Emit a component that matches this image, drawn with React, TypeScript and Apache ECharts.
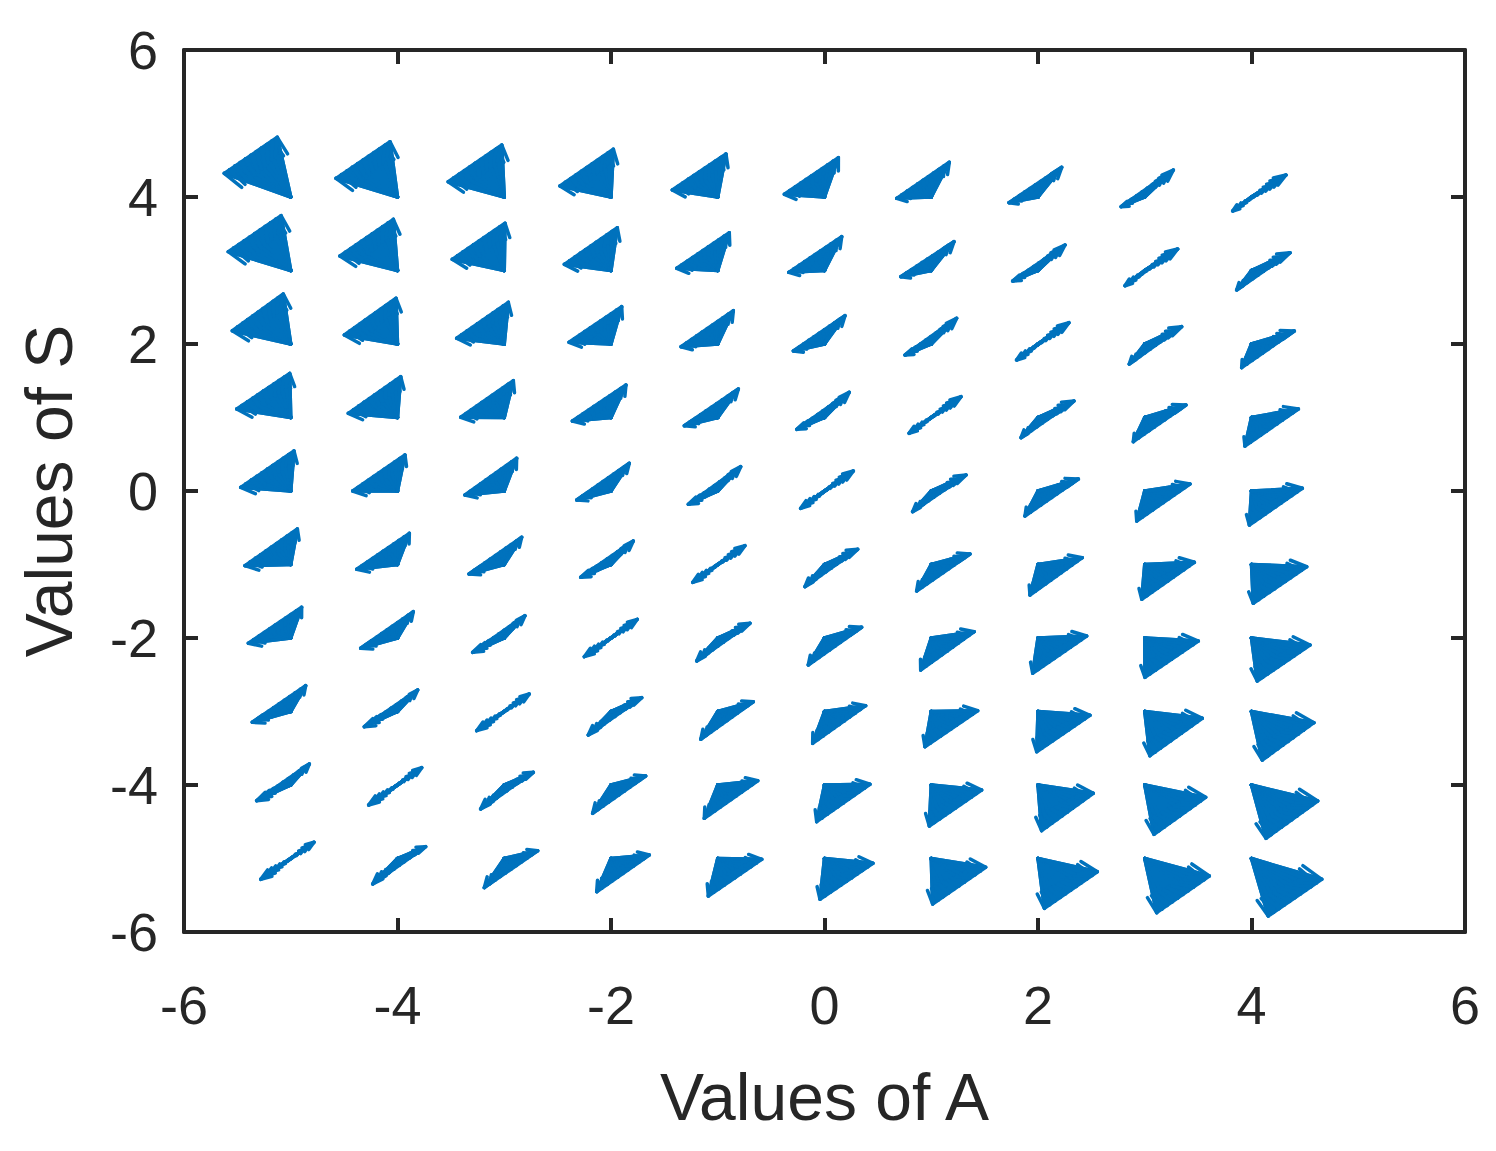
import * as echarts from 'echarts';
import { useEffect, useRef } from 'react';

// grid of the quiver plot
const aValues = [-5, -4, -3, -2, -1, 0, 1, 2, 3, 4];
const sValues = [4, 3, 2, 1, 0, -1, -2, -3, -4, -5];

// each glyph is a fan of arrows from (A, S) to the points between
// (A + u1, S + v1) and (A + u2, S + v2); rows follow sValues, columns aValues
const u1 = [
  [-0.623, -0.576, -0.525, -0.478, -0.426, -0.376, -0.324, -0.272, -0.222, -0.176],
  [-0.585, -0.539, -0.487, -0.437, -0.384, -0.335, -0.286, -0.237, -0.185, -0.139],
  [-0.547, -0.498, -0.446, -0.393, -0.344, -0.292, -0.246, -0.2, -0.145, -0.092],
  [-0.506, -0.461, -0.408, -0.362, -0.313, -0.26, -0.208, -0.159, -0.107, -0.061],
  [-0.469, -0.42, -0.368, -0.321, -0.276, -0.223, -0.174, -0.122, -0.075, -0.02],
  [-0.429, -0.382, -0.33, -0.284, -0.234, -0.183, -0.137, -0.075, -0.028, 0.017],
  [-0.397, -0.345, -0.296, -0.25, -0.197, -0.152, -0.099, -0.05, 0.002, 0.054],
  [-0.36, -0.311, -0.258, -0.213, -0.159, -0.111, -0.059, -0.012, 0.049, 0.101],
  [-0.319, -0.27, -0.221, -0.172, -0.126, -0.073, -0.018, 0.034, 0.087, 0.136],
  [-0.281, -0.232, -0.187, -0.134, -0.088, -0.042, 0.013, 0.06, 0.112, 0.157],
];
const v1 = [
  [0.322, 0.254, 0.208, 0.15, 0.095, 0.037, -0.018, -0.077, -0.132, -0.19],
  [0.256, 0.197, 0.152, 0.084, 0.03, -0.025, -0.084, -0.143, -0.207, -0.265],
  [0.181, 0.122, 0.078, 0.023, -0.037, -0.095, -0.15, -0.218, -0.272, -0.322],
  [0.116, 0.057, 0.003, -0.048, -0.112, -0.161, -0.215, -0.275, -0.329, -0.388],
  [0.05, 0, -0.054, -0.122, -0.181, -0.236, -0.281, -0.34, -0.408, -0.463],
  [-0.016, -0.065, -0.129, -0.174, -0.243, -0.302, -0.361, -0.415, -0.473, -0.528],
  [-0.072, -0.14, -0.195, -0.254, -0.313, -0.367, -0.435, -0.48, -0.535, -0.585],
  [-0.147, -0.207, -0.261, -0.32, -0.378, -0.433, -0.479, -0.547, -0.601, -0.66],
  [-0.213, -0.272, -0.327, -0.385, -0.453, -0.499, -0.558, -0.621, -0.671, -0.725],
  [-0.283, -0.347, -0.397, -0.452, -0.51, -0.555, -0.619, -0.678, -0.737, -0.782],
];
const u2 = [
  [-0.126, -0.07, -0.023, 0.022, 0.077, 0.13, 0.169, 0.222, 0.268, 0.323],
  [-0.091, -0.039, 0.007, 0.059, 0.108, 0.161, 0.213, 0.253, 0.308, 0.361],
  [-0.07, -0.014, 0.038, 0.1, 0.146, 0.192, 0.238, 0.29, 0.346, 0.401],
  [-0.01, 0.03, 0.085, 0.14, 0.193, 0.232, 0.279, 0.337, 0.386, 0.439],
  [0.03, 0.07, 0.116, 0.171, 0.215, 0.27, 0.326, 0.378, 0.424, 0.476],
  [0.062, 0.111, 0.163, 0.209, 0.255, 0.311, 0.363, 0.415, 0.465, 0.517],
  [0.102, 0.148, 0.194, 0.246, 0.302, 0.348, 0.403, 0.456, 0.502, 0.548],
  [0.14, 0.189, 0.234, 0.288, 0.333, 0.386, 0.435, 0.487, 0.539, 0.585],
  [0.174, 0.227, 0.272, 0.325, 0.375, 0.426, 0.472, 0.518, 0.571, 0.62],
  [0.218, 0.264, 0.313, 0.359, 0.412, 0.454, 0.51, 0.556, 0.605, 0.658],
];
const v2 = [
  [0.812, 0.752, 0.707, 0.649, 0.585, 0.535, 0.472, 0.404, 0.367, 0.299],
  [0.746, 0.696, 0.642, 0.582, 0.514, 0.46, 0.392, 0.347, 0.292, 0.242],
  [0.68, 0.622, 0.567, 0.508, 0.453, 0.385, 0.35, 0.29, 0.236, 0.177],
  [0.6, 0.555, 0.501, 0.442, 0.388, 0.343, 0.283, 0.224, 0.17, 0.116],
  [0.544, 0.49, 0.445, 0.377, 0.331, 0.272, 0.218, 0.163, 0.095, 0.037],
  [0.483, 0.424, 0.37, 0.32, 0.256, 0.207, 0.143, 0.093, 0.03, -0.03],
  [0.418, 0.358, 0.303, 0.254, 0.2, 0.146, 0.086, 0.027, -0.041, -0.095],
  [0.351, 0.293, 0.238, 0.188, 0.133, 0.079, 0.011, -0.052, -0.093, -0.152],
  [0.286, 0.236, 0.172, 0.122, 0.058, 0.01, -0.068, -0.113, -0.168, -0.218],
  [0.221, 0.161, 0.106, 0.048, -0.011, -0.065, -0.12, -0.18, -0.238, -0.283],
];

const BLUE = '#0072BD';
const INK = '#262626';
const FONT = '"Liberation Sans", Arial, Helvetica, sans-serif';
const ARROWS = 10;

export default function App() {
  const container = useRef<HTMLDivElement | null>(null);

  useEffect(() => {
    if (!container.current) return;
    const chart = echarts.init(container.current, null, { renderer: 'svg' });

    const data: number[][] = [];
    sValues.forEach((s, i) => {
      aValues.forEach((a, j) => {
        data.push([a, s, u1[i][j], v1[i][j], u2[i][j], v2[i][j]]);
      });
    });

    const line = { color: INK, width: 4 };
    const boxAxis = {
      type: 'value',
      min: -6,
      max: 6,
      interval: 2,
      axisLine: { show: true, onZero: false, lineStyle: line },
      axisTick: { show: true, inside: true, length: 14, lineStyle: line },
      splitLine: { show: false },
    };

    chart.setOption({
      animation: false,
      backgroundColor: '#fff',
      grid: { left: 184, top: 50, right: 31, bottom: 219 },
      xAxis: [
        {
          ...boxAxis,
          position: 'bottom',
          axisLabel: { fontSize: 54, color: INK, fontFamily: FONT, margin: 46 },
          name: 'Values of A',
          nameLocation: 'middle',
          nameGap: 132,
          nameTextStyle: { fontSize: 66, color: INK, fontFamily: FONT },
        },
        { ...boxAxis, position: 'top', axisLabel: { show: false } },
      ],
      yAxis: [
        {
          ...boxAxis,
          position: 'left',
          axisLabel: { fontSize: 54, color: INK, fontFamily: FONT, margin: 26 },
          name: 'Values of S',
          nameLocation: 'middle',
          nameGap: 102,
          nameTextStyle: { fontSize: 66, color: INK, fontFamily: FONT },
        },
        { ...boxAxis, position: 'right', axisLabel: { show: false } },
      ],
      series: [
        {
          type: 'custom',
          coordinateSystem: 'cartesian2d',
          xAxisIndex: 0,
          yAxisIndex: 0,
          encode: { x: 0, y: 1 },
          data,
          renderItem: (_params: any, api: any) => {
            const a = api.value(0);
            const s = api.value(1);
            const b = api.coord([a, s]);
            const e1 = api.coord([a + api.value(2), s + api.value(3)]);
            const e2 = api.coord([a + api.value(4), s + api.value(5)]);
            const stroke = { stroke: BLUE, lineWidth: 3.5, fill: null, lineJoin: 'round', lineCap: 'round' };
            const children: any[] = [
              {
                type: 'polygon',
                shape: { points: [b, e1, e2] },
                style: { fill: BLUE, stroke: BLUE, lineWidth: 3.5, lineJoin: 'round' },
              },
            ];
            for (let k = 0; k <= ARROWS; k++) {
              const t = k / ARROWS;
              const tip = [e1[0] + (e2[0] - e1[0]) * t, e1[1] + (e2[1] - e1[1]) * t];
              const dx = tip[0] - b[0];
              const dy = tip[1] - b[1];
              // matlab-style arrow head
              const h1 = [tip[0] - 0.3 * (dx + 0.35 * dy), tip[1] - 0.3 * (dy - 0.35 * dx)];
              const h2 = [tip[0] - 0.3 * (dx - 0.35 * dy), tip[1] - 0.3 * (dy + 0.35 * dx)];
              children.push({ type: 'polyline', shape: { points: [b, tip] }, style: stroke });
              children.push({ type: 'polyline', shape: { points: [h1, tip, h2] }, style: stroke });
            }
            return { type: 'group', children };
          },
        },
      ],
    } as any);

    return () => chart.dispose();
  }, []);

  return (
    <div
      ref={container}
      style={{ position: 'fixed', left: 0, top: 0, width: 1496, height: 1151, background: '#fff' }}
    />
  );
}
